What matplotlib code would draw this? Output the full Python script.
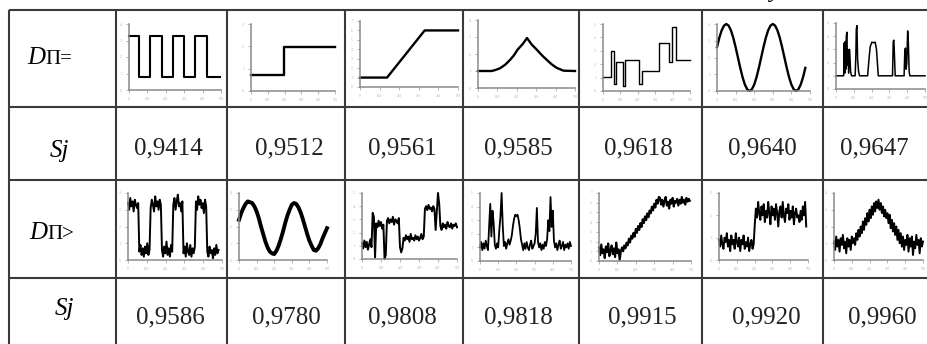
import matplotlib.pyplot as plt
import numpy as np

plt.rcParams['font.family'] = ['Liberation Serif', 'DejaVu Serif']

W, H = 927, 344

# row labels and Sj values
sj_clean = ["0,9414", "0,9512", "0,9561", "0,9585", "0,9618", "0,9640", "0,9647"]
sj_noisy = ["0,9586", "0,9780", "0,9808", "0,9818", "0,9915", "0,9920", "0,9960"]

# ---- clean signals, x in % of the plot width ----
square_x = [0, 11, 11, 23, 23, 36, 36, 48, 48, 60, 60, 72, 72, 85, 85, 99]
square_y = [3.27, 3.27, 0.79, 0.79, 3.27, 3.27, 0.79, 0.79,
            3.27, 3.27, 0.79, 0.79, 3.27, 3.27, 0.79, 0.79]

step_x = [0, 39, 39, 100]
step_y = [0.72, 0.72, 1.97, 1.97]

ramp_x = [0, 27.6, 66, 100]
ramp_y = [1.0, 1.0, 6.0, 6.0]

peak_x = [0, 14, 18, 22.7, 28, 33, 37, 41, 46, 50.5, 55.5, 61, 66, 71, 76, 81, 88, 100]
peak_y = [1.0, 1.0, 1.06, 1.16, 1.37, 1.65, 1.92, 2.27, 2.58, 2.94, 2.55, 2.23, 1.92, 1.65,
          1.39, 1.19, 1.02, 1.0]

levels_x = [0, 9.6, 12.7, 15.4, 23, 25.4, 41.2, 45.4, 64.6, 76.2, 79.6, 83.5, 100]
levels_y = [1.05, 3.0, 0.5, 2.2, 0.35, 2.35, 0.55, 1.5, 3.6, 2.15, 4.8, 2.3, 2.3]

sine_y = [2.62, 3.18, 3.62, 3.90, 4.0, 3.90, 3.62, 3.18, 2.62, 2.0,
          1.38, 0.82, 0.38, 0.10, 0.0, 0.10, 0.38, 0.82, 1.38, 2.0,
          2.62, 3.18, 3.62, 3.90, 4.0, 3.90, 3.62, 3.18, 2.62, 2.0,
          1.38, 0.82, 0.38, 0.10, 0.0, 0.10, 0.38, 0.82, 1.38]

spikes_x = [0, 8.6, 9.3, 9.8, 10.4, 11.0, 11.6, 12.3, 12.8, 13.4, 14.2, 15.3, 16.4, 17.5,
            21.5, 22.3, 22.8, 23.5, 24.3, 25.4, 26.5, 35.5, 37.0, 38.4, 40.3, 42.2, 44.0,
            45.5, 46.5, 47.5, 63.5, 64.3, 65.0, 65.7, 66.5, 76.5, 77.3, 78.0, 78.8, 79.6,
            80.5, 81.3, 82.2, 83.0, 100]
spikes_y = [1.0, 1.0, 3.5, 1.2, 3.6, 1.5, 4.0, 4.3, 1.8, 3.0, 1.2, 3.0, 1.3, 1.0,
            1.0, 2.5, 4.5, 4.8, 2.2, 1.3, 1.0, 1.0, 2.2, 3.2, 3.55, 3.5, 3.55,
            3.0, 2.0, 1.0, 1.0, 3.6, 3.7, 2.5, 1.0, 1.0, 2.8, 3.1, 1.5, 2.0,
            4.4, 3.5, 1.3, 1.0, 1.0]

# ---- noisy signals (evenly sampled) ----
n_square = [3.4, 3.0, 3.7, 3.2, 3.5, 2.9, 3.6, 3.3, 3.1, 3.4,
            0.5, 0.9, 0.3, 0.7, 0.2, 0.8, 0.4, 1.0, 0.3, 0.6,
            3.1, 3.6, 3.3, 2.9, 3.8, 3.2, 3.5, 3.0, 3.6, 3.3,
            0.6, 0.2, 0.8, 0.4, 1.1, 0.3, 0.7, 0.2, 0.9, 0.5,
            3.3, 3.7, 3.0, 3.5, 3.9, 3.2, 3.4, 2.9, 3.5,
            0.4, 0.8, 0.2, 1.0, 0.5, 0.3, 0.9, 0.2, 0.7, 0.4, 0.8,
            3.5, 3.0, 3.8, 3.3, 3.6, 3.1, 3.4, 2.8, 3.6, 3.2,
            0.5, 0.2, 0.8, 0.4, 0.6, 0.1, 0.7, 0.3, 0.9, 0.4, 0.6]

n_sine = [2.4, 2.8, 3.1, 3.35, 3.5, 3.45, 3.4, 3.2, 2.9, 2.5,
          2.0, 1.55, 1.1, 0.75, 0.5, 0.4, 0.35, 0.55, 0.85, 1.25,
          1.7, 2.2, 2.65, 3.0, 3.3, 3.4, 3.35, 3.15, 2.85, 2.45,
          2.0, 1.55, 1.15, 0.85, 0.6, 0.55, 0.7, 0.95, 1.3, 1.6, 1.9]

n_levels = [1.2, 0.8, 1.4, 0.9, 1.3, 0.7, 1.1, 1.5, 0.9,
            3.5, 3.2, 0.1,
            2.7, 2.4, 2.9, 2.5, 2.8, 2.3, 2.6,
            0.0, 0.3,
            2.9, 3.1, 2.7, 3.0, 2.8, 3.2, 2.6, 3.0, 2.9, 2.7, 3.1,
            0.9, 0.5, 0.8,
            1.6, 1.4, 1.8, 1.5, 1.7, 1.3, 1.9, 1.5, 1.6, 1.4, 1.8, 1.5, 1.7, 1.4, 1.6, 1.9, 1.5, 1.7,
            3.8, 4.0, 3.7, 4.1, 3.8, 3.9, 3.6, 4.0, 3.8,
            2.2, 3.6, 5.0, 4.2,
            2.5, 2.2, 2.7, 2.4, 2.6, 2.3, 2.8, 2.5, 2.4, 2.7, 2.3, 2.6, 2.5, 2.7, 2.4]

n_spikes = [1.0, 1.4, 0.8, 1.3, 0.9, 1.5, 1.1, 0.8,
            2.5, 4.2, 1.8, 3.7, 2.8, 1.2,
            0.9, 1.3, 1.0,
            2.3, 3.3, 5.0, 2.6,
            1.1, 1.4, 0.9, 1.3, 1.6, 1.2, 1.5,
            1.9, 2.6, 3.1, 3.4, 3.3, 3.4, 3.0, 2.4, 1.6,
            1.2, 0.8, 1.3, 0.9, 1.4, 1.0, 0.8, 1.2, 1.5, 0.9, 1.1, 1.3,
            2.0, 3.9, 1.4,
            1.0, 1.3, 0.8, 1.2, 0.9, 1.4, 1.1,
            1.6, 3.0, 2.2, 4.7, 2.5, 3.7, 1.5,
            1.0, 1.3, 0.8, 1.2, 1.5, 0.9, 1.1, 1.4, 0.8, 1.2, 1.0, 1.3, 0.9, 1.4, 1.1]

n_ramp = [1.4, 0.6, 1.7, 0.8, 1.2, 0.3, 1.5, 0.9, 1.8, 0.5, 1.1, 1.6, 0.7, 1.3, 0.4, 1.9,
          0.8, 1.2, 0.1, 1.0, 1.4,
          1.0, 1.6, 1.3, 1.9, 1.6, 2.3, 1.9, 2.6, 2.3, 2.9, 2.5, 3.3, 2.9, 3.6, 3.2, 3.9,
          3.5, 4.3, 3.9, 4.6, 4.2, 4.9, 4.5, 5.2, 4.9, 5.6, 5.2, 5.9, 5.5, 6.3, 5.9, 6.6,
          6.5, 5.8, 6.3, 5.6, 6.2, 6.6, 5.7, 6.1, 5.4, 6.3, 5.9, 6.5, 5.6, 6.2, 6.0, 6.4,
          5.7, 6.3, 5.9, 6.6, 6.0, 6.3, 5.8, 6.5, 6.1, 6.4, 6.2]

n_step = [0.9, 0.6, 1.1, 0.7, 0.5, 1.0, 0.8, 1.2, 0.6, 0.9, 0.4, 1.1, 0.7, 0.9, 0.5, 1.2,
          0.8, 0.6, 1.0, 0.4, 0.9, 0.7, 1.1, 0.5, 0.8, 0.6, 1.0, 0.4, 0.7, 0.9, 0.5, 0.7,
          1.6, 2.3, 1.9, 2.6, 2.1, 1.8, 2.4, 2.0, 2.5, 1.7, 2.2, 1.9, 2.6, 2.1, 1.6, 2.4,
          2.0, 2.3, 1.8, 2.5, 2.1, 1.5, 2.2, 2.4, 1.9, 2.6, 2.0, 1.7, 2.3, 2.1, 2.5, 1.8,
          2.2, 1.9, 2.4, 1.6, 2.1, 2.3, 1.9, 2.0, 1.7, 2.2, 1.8, 2.4, 2.0, 2.6, 1.5]

n_peak = [1.1, 0.6, 1.4, 0.8, 1.2, 0.5, 1.3, 0.9, 1.5, 0.7, 1.1, 0.4, 1.3, 0.8, 1.2, 0.6, 1.4, 1.0,
          1.3, 0.9, 1.6, 1.2, 1.8, 1.4, 2.0, 1.6, 2.3, 1.8, 2.5, 2.1, 2.8, 2.3, 3.0, 2.5, 3.2,
          2.7, 3.4, 2.9, 3.5, 3.1,
          3.6,
          3.0, 3.4, 2.8, 3.2, 2.6, 3.0, 2.5, 2.8, 2.2, 2.7, 1.9, 2.4, 1.7, 2.2, 1.5, 2.0,
          1.2, 1.8, 1.0, 1.6, 0.8, 1.4, 0.6, 1.2,
          0.9, 1.5, 0.5, 1.3, 0.8, 1.4, 0.3, 1.1, 0.7, 1.5, 0.9, 1.2, 0.4, 1.3, 0.8, 1.1]

# ---- layout (pixels) ----
col_lines = [9, 116, 227, 345, 463, 579, 702, 823]
row_lines = [10, 107, 180, 278]
text_cx = [[168, 289, 402, 518, 638, 762, 874],
           [170, 286, 402, 518, 642, 766, 882]]

row1_boxes = [(129, 24, 221, 90), (251, 24, 335, 91), (360, 21, 458, 87), (478, 20, 575, 88),
              (603, 24, 690, 91), (717, 24, 810, 91), (836, 23, 925, 89)]
row1_ymax = [4, 3, 7, 4, 5, 4, 5]
row3_boxes = [(128, 193, 222, 260), (239, 193, 327, 260), (362, 193, 457, 259), (480, 193, 571, 261),
              (599, 193, 691, 261), (719, 193, 808, 260), (834, 193, 923, 260)]
row3_ymax = [4, 4, 5, 5, 7, 3, 4]

fig = plt.figure(figsize=(W / 100, H / 100), dpi=100)
bg = fig.add_axes([0, 0, 1, 1])
bg.set_xlim(0, W)
bg.set_ylim(H, 0)
bg.axis('off')

lc = '#3a3a3a'
for x in col_lines:
    bg.plot([x, x], [row_lines[0], H], color=lc, lw=1.5, solid_capstyle='butt')
for y in row_lines:
    bg.plot([col_lines[0], W], [y, y], color=lc, lw=1.5, solid_capstyle='butt')

# cut off caption letter above the table
bg.text(770, -3, "y", fontsize=17, style='italic', ha='left', va='baseline')

# row labels
bg.text(27, 64, "D", fontsize=18, style='italic', ha='left', va='baseline')
bg.text(45, 64, "П=", fontsize=15, ha='left', va='baseline')
bg.text(29, 239, "D", fontsize=18, style='italic', ha='left', va='baseline')
bg.text(47, 239, "П>", fontsize=15, ha='left', va='baseline')
bg.text(50, 157, "Sj", fontsize=18, style='italic', ha='left', va='baseline')
bg.text(55, 315, "Sj", fontsize=18, style='italic', ha='left', va='baseline')

for cx, s in zip(text_cx[0], sj_clean):
    bg.text(cx, 154, s, fontsize=18, ha='center', va='baseline', color='#222222')
for cx, s in zip(text_cx[1], sj_noisy):
    bg.text(cx, 323, s, fontsize=18, ha='center', va='baseline', color='#222222')


def mini_axes(box, ymax):
    l, t, r, b = box
    ax = fig.add_axes([l / W, 1 - b / H, (r - l) / W, (b - t) / H])
    ax.set_xlim(0, 100)
    ax.set_ylim(0, ymax)
    for s in ['top', 'right']:
        ax.spines[s].set_visible(False)
    for s in ['left', 'bottom']:
        ax.spines[s].set_color('#8a8a8a')
        ax.spines[s].set_linewidth(1.1)
    ax.set_xticks(np.linspace(0, 100, 6))
    ax.set_xticklabels(['0', '100', '200', '300', '400', '500'])
    ax.set_yticks(range(ymax + 1))
    ax.set_yticklabels([str(v) for v in range(ymax + 1)])
    ax.tick_params(length=2, width=0.5, color='#999999', labelsize=2.5,
                   labelcolor='#aaaaaa', pad=3)
    ax.patch.set_alpha(0)
    return ax


clean = [(square_x, square_y, 'line', 1.5),
         (step_x, step_y, 'line', 1.7),
         (ramp_x, ramp_y, 'line', 1.7),
         (peak_x, peak_y, 'line', 1.7),
         (levels_x, levels_y, 'steps', 1.0),
         (np.linspace(0, 95, len(sine_y)), sine_y, 'line', 1.7),
         (spikes_x, spikes_y, 'line', 1.1)]

for box, ymax, (xs, ys, kind, lw) in zip(row1_boxes, row1_ymax, clean):
    ax = mini_axes(box, ymax)
    if kind == 'steps':
        ax.plot(xs, ys, drawstyle='steps-post', color='black', lw=lw, clip_on=False)
    else:
        ax.plot(xs, ys, color='black', lw=lw, clip_on=False)

noisy = [(n_square, 96.4, 1.4), (n_sine, 100, 2.8), (n_levels, 100, 1.4), (n_spikes, 100, 1.3),
         (n_ramp, 98.75, 1.5), (n_step, 98, 1.4), (n_peak, 100, 1.4)]

for box, ymax, (ys, xend, lw) in zip(row3_boxes, row3_ymax, noisy):
    ax = mini_axes(box, ymax)
    ax.plot(np.linspace(0, xend, len(ys)), ys, color='black', lw=lw, clip_on=False)

fig.savefig('out.png', dpi=100)
